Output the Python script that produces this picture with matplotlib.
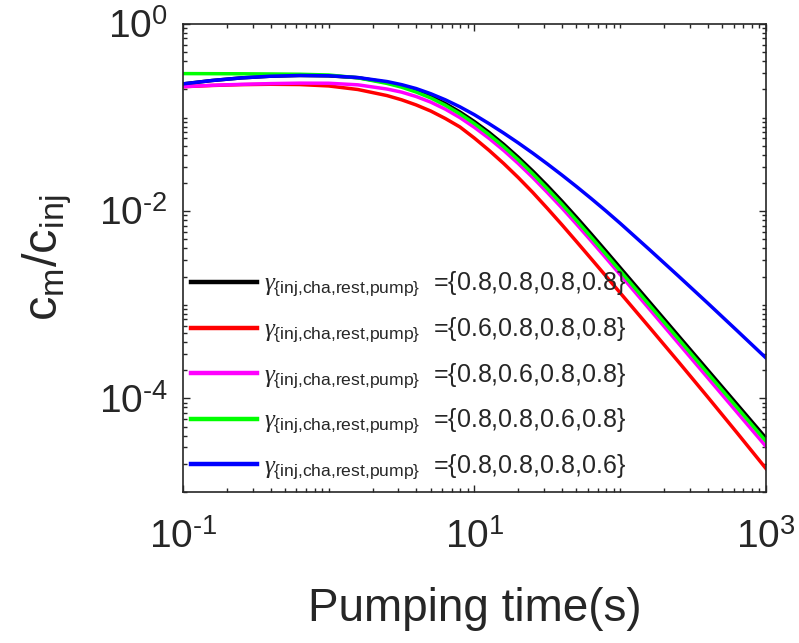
import numpy as np
import matplotlib
matplotlib.use("Agg")
import matplotlib.pyplot as plt
from matplotlib.ticker import FixedLocator, LogLocator, NullFormatter

# ---- data ----
time_s = [0.1, 0.158, 0.251, 0.398, 0.631, 1.0, 1.585, 2.512, 3.162, 3.981, 5.012, 6.31, 7.943,
          10.0, 12.59, 15.85, 19.95, 25.12, 31.62, 39.81, 50.12, 63.1, 79.43, 100.0,
          158.5, 251.2, 398.1, 631.0, 1000.0]

# log10(c_m/c_inj)
log_all08 = [-0.640, -0.604, -0.576, -0.558, -0.550, -0.554, -0.574, -0.624, -0.662, -0.712,
             -0.774, -0.850, -0.940, -1.043, -1.158, -1.285, -1.423, -1.571, -1.728, -1.893,
             -2.065, -2.242, -2.422, -2.604, -2.968, -3.332, -3.696, -4.060, -4.424]
log_inj06 = [-0.670, -0.657, -0.648, -0.644, -0.647, -0.662, -0.700, -0.765, -0.810, -0.865,
             -0.930, -1.010, -1.100, -1.220, -1.350, -1.490, -1.640, -1.800, -1.970, -2.145,
             -2.325, -2.507, -2.690, -2.873, -3.240, -3.610, -3.985, -4.365, -4.750]
log_cha06 = [-0.670, -0.655, -0.645, -0.637, -0.632, -0.633, -0.650, -0.695, -0.728, -0.775,
             -0.835, -0.910, -1.000, -1.105, -1.222, -1.350, -1.490, -1.640, -1.800, -1.965,
             -2.138, -2.316, -2.496, -2.678, -3.045, -3.412, -3.779, -4.146, -4.513]
log_rest06 = [-0.530, -0.531, -0.532, -0.534, -0.537, -0.545, -0.575, -0.635, -0.675, -0.727,
              -0.790, -0.868, -0.960, -1.065, -1.182, -1.310, -1.450, -1.600, -1.760, -1.925,
              -2.098, -2.276, -2.456, -2.638, -3.002, -3.366, -3.730, -4.094, -4.458]
log_pump06 = [-0.640, -0.604, -0.576, -0.558, -0.550, -0.553, -0.572, -0.615, -0.648, -0.690,
              -0.745, -0.810, -0.885, -0.970, -1.065, -1.165, -1.270, -1.380, -1.495, -1.614,
              -1.737, -1.864, -1.995, -2.130, -2.410, -2.694, -2.982, -3.274, -3.568]

series = [log_all08, log_inj06, log_cha06, log_rest06, log_pump06]
gamma_sets = ["{0.8,0.8,0.8,0.8}", "{0.6,0.8,0.8,0.8}", "{0.8,0.6,0.8,0.8}",
              "{0.8,0.8,0.6,0.8}", "{0.8,0.8,0.8,0.6}"]
colors = ["#000000", "#ff0000", "#ff00ff", "#00ff00", "#0000ff"]

xtick_vals = [0.1, 10, 1000]
xtick_labels = [r"$10^{\text{-}1}$", r"$10^{1}$", r"$10^{3}$"]
ytick_vals = [1e-4, 1e-2, 1]
ytick_labels = [r"$10^{\text{-}4}$", r"$10^{\text{-}2}$", r"$10^{0}$"]

# ---- style ----
plt.rcParams["font.family"] = ["Liberation Sans", "DejaVu Sans"]
plt.rcParams["mathtext.fontset"] = "custom"
plt.rcParams["mathtext.rm"] = "Liberation Sans"
plt.rcParams["mathtext.it"] = "Liberation Serif:italic"
plt.rcParams["mathtext.bf"] = "Liberation Sans:bold"
plt.rcParams["mathtext.sf"] = "Liberation Sans"

txt = "#262626"
fig = plt.figure(figsize=(7.99, 6.43), dpi=100)
ax = fig.add_axes([0.229, 0.2348, 0.7297, 0.7279])

for lv, g, c in zip(series, gamma_sets, colors):
    ax.plot(time_s, 10.0 ** np.asarray(lv), color=c, lw=2.5,
            label=r"$\gamma_{\{\text{inj,cha,rest,pump}\}}$  =" + g)

ax.set_xscale("log")
ax.set_yscale("log")
ax.set_xlim(0.1, 1000)
ax.set_ylim(1e-5, 1)

ax.xaxis.set_major_locator(FixedLocator(xtick_vals))
ax.set_xticklabels(xtick_labels)
ax.xaxis.set_minor_locator(LogLocator(base=10, subs=np.arange(1, 10), numticks=100))
ax.xaxis.set_minor_formatter(NullFormatter())
ax.yaxis.set_major_locator(FixedLocator(ytick_vals))
ax.set_yticklabels(ytick_labels)
ax.yaxis.set_minor_locator(LogLocator(base=10, subs=np.arange(1, 10), numticks=100))
ax.yaxis.set_minor_formatter(NullFormatter())

ax.tick_params(which="both", direction="in", top=True, right=True, color=txt, width=1.0)
ax.tick_params(which="major", length=5, labelsize=28, labelcolor=txt)
ax.tick_params(axis="x", which="major", pad=20)
ax.tick_params(axis="y", which="major", pad=11)
ax.tick_params(which="minor", length=3)
for s in ax.spines.values():
    s.set_color(txt)
    s.set_linewidth(1.2)

ax.set_xlabel("Pumping time(s)", fontsize=33, color=txt, labelpad=22)
ax.set_ylabel(r"$\mathrm{c_m/c_{inj}}$", fontsize=35, color=txt, labelpad=18)

leg = ax.legend(loc="lower left", bbox_to_anchor=(0.014, 0.022), frameon=False,
                fontsize=18, handlelength=2.65, handletextpad=0.25, labelspacing=0.66,
                borderaxespad=0, borderpad=0)
for t in leg.get_texts():
    t.set_color(txt)
for l in leg.get_lines():
    l.set_linewidth(3.2)

fig.savefig("out.png", dpi=100)
